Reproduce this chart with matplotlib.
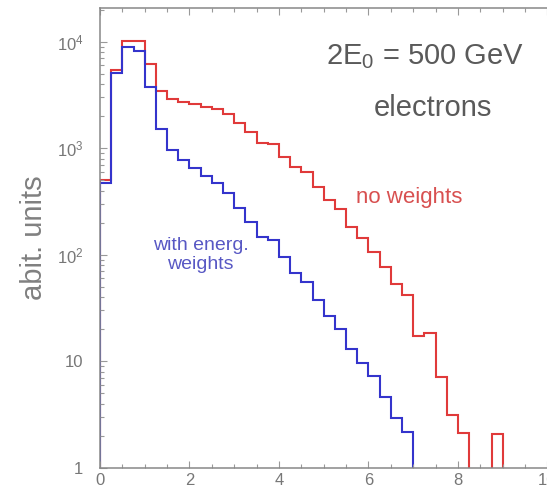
import numpy as np
import matplotlib
matplotlib.use("Agg")
import matplotlib.pyplot as plt
from matplotlib.ticker import FixedLocator, FixedFormatter, MultipleLocator

plt.rcParams['font.family'] = ['Liberation Sans', 'DejaVu Sans']
plt.rcParams['mathtext.fontset'] = 'custom'
plt.rcParams['mathtext.rm'] = 'Liberation Sans'
plt.rcParams['mathtext.it'] = 'Liberation Sans:italic'
plt.rcParams['mathtext.bf'] = 'Liberation Sans:bold'

# histogram bins (0 .. 10, width 0.25)
bin_edges = np.linspace(0, 10, 41)

# no weights (red)
no_weights = [503, 5420, 10200, 10200, 6170, 3440, 2880, 2735, 2600, 2455,
              2320, 2080, 1735, 1430, 1127, 1094, 832, 670, 601, 435,
              326, 267, 181, 143, 107, 77, 53, 42, 17.2, 18.5,
              7.15, 3.12, 2.10, 0, 0, 2.06, 0, 0, 0, 0]

# with energy weights (blue)
energ_weights = [470, 5050, 8970, 8180, 3730, 1530, 970, 775, 648, 548,
                 468, 377, 273, 204, 148, 137, 96, 67, 55, 37.6,
                 26.6, 20.0, 12.9, 9.55, 7.26, 4.64, 2.91, 2.18, 0, 0,
                 0, 0, 0, 0, 0, 0, 0, 0, 0, 0]

ytick_vals = [1, 10, 100, 1000, 10000]
ytick_labels = ['1', '10', r'$\mathregular{10^{2}}$', r'$\mathregular{10^{3}}$',
                r'$\mathregular{10^{4}}$']
xtick_vals = [0, 2, 4, 6, 8, 10]
xtick_labels = ['0', '2', '4', '6', '8', '10']

RED = '#e03a3a'
BLUE = '#3434cc'
GREY = '#777777'

fig = plt.figure(figsize=(5.47, 4.88), dpi=100)
ax = fig.add_axes([0.1828, 0.0416, 0.818, 0.943])

floor = 0.5  # below the visible range, empty bins drop off the axis
red_v = np.where(np.array(no_weights) > 0, no_weights, floor)
blue_v = np.where(np.array(energ_weights) > 0, energ_weights, floor)

ax.stairs(red_v, bin_edges, baseline=floor, color=RED, lw=1.5)
ax.stairs(blue_v, bin_edges, baseline=floor, color=BLUE, lw=1.5)

ax.set_yscale('log')
ax.set_xlim(0, 10)
ax.set_ylim(1, 2.1e4)

ax.yaxis.set_major_locator(FixedLocator(ytick_vals))
ax.yaxis.set_major_formatter(FixedFormatter(ytick_labels))
ax.xaxis.set_major_locator(FixedLocator(xtick_vals))
ax.xaxis.set_major_formatter(FixedFormatter(xtick_labels))
ax.xaxis.set_minor_locator(MultipleLocator(0.5))

ax.tick_params(axis='both', which='both', direction='in', colors='#999999',
               labelcolor=GREY, labelsize=12)
ax.tick_params(axis='x', which='both', top=True, bottom=True)
ax.tick_params(axis='y', which='both', left=True, right=False)
ax.tick_params(axis='both', which='major', length=5, width=0.8)
ax.tick_params(axis='both', which='minor', length=3, width=0.8)
ax.tick_params(axis='y', which='major', pad=12)
ax.tick_params(axis='x', which='major', pad=4)

for s in ax.spines.values():
    s.set_color('#888888')
    s.set_linewidth(1.1)
ax.spines['right'].set_visible(False)

ax.set_ylabel('abit. units', fontsize=21, color='#808080', labelpad=6)

ax.text(7.27, 7.2e3, r'2E$_\mathregular{0}$ = 500 GeV', fontsize=21, color='#5a5a5a',
        ha='center', va='center')
ax.text(7.44, 2.4e3, 'electrons', fontsize=21, color='#5a5a5a',
        ha='center', va='center')
ax.text(6.92, 3.45e2, 'no weights', fontsize=16, color='#d85050',
        ha='center', va='center')
ax.text(2.25, 99, 'with energ.\nweights', fontsize=14, color='#5858c4',
        ha='center', va='center', linespacing=1.15)

fig.savefig('out.png', dpi=100)
